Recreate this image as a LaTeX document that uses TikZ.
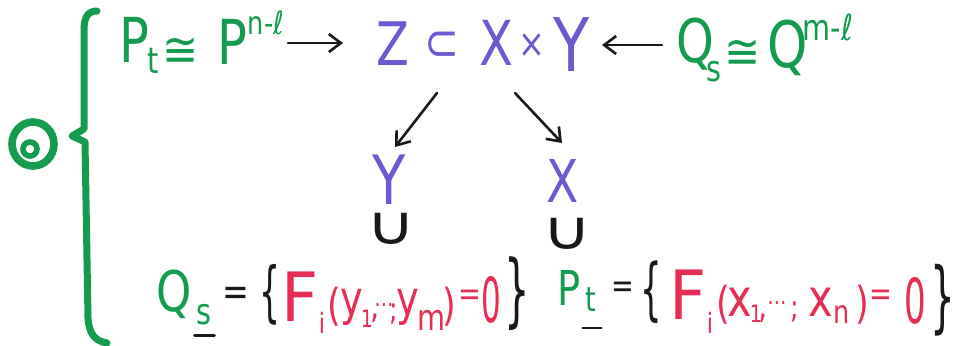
\documentclass[tikz,border=0pt]{standalone}
\usepackage{fontspec}
\setmainfont{DejaVu Sans}
\usetikzlibrary{arrows.meta,calc}
\definecolor{hwgreen}{RGB}{20,155,80}
\definecolor{hwblue}{RGB}{105,90,210}
\definecolor{hwred}{RGB}{232,45,85}
\definecolor{hwblack}{RGB}{25,25,25}
\newcommand\tk[7][0.8]{\node[tk,text=#6,font=\fontsize{#5}{#5}\selectfont] (#2) at (#3,#4) {\scalebox{#1}[1]{#7}};}
\begin{document}
\begin{tikzpicture}[x=0.5pt,y=-0.5pt,
  tk/.style={inner sep=0pt,outer sep=0pt},
  arr/.style={-{Straight Barb[length=6pt,width=9pt]},line width=1.3pt,draw=hwblack,line cap=round},
  uline/.style={line width=1.4pt,draw=hwblack,line cap=round}]
\fill[white] (0,0) rectangle (958,345);
\useasboundingbox (0,0) rectangle (958,345);
% left brace and circled mark
\draw[hwgreen,line width=3.5pt,line cap=round,line join=round]
  (97,11) .. controls (88,11) and (84,17) .. (84,30) -- (84,129) -- (72,136) -- (85,142)
  -- (88,318) .. controls (89,334) and (95,341) .. (107,343);
\draw[hwgreen,line width=3.8pt] (33,144) ellipse [x radius=10.5pt,y radius=11pt];
\draw[hwgreen,line width=2.8pt] (30,149) circle [radius=3.5pt];
% top row
\tk{P1}{134}{40}{31}{hwgreen}{P}
\tk{t1}{153}{61}{18}{hwgreen}{t}
\tk[0.9]{c1}{181}{52}{24}{hwgreen}{≅}
\tk{P2}{232}{42}{31}{hwgreen}{P}
\tk{sup1}{266}{23}{16}{hwgreen}{n-ℓ}
\tk{Zt}{393}{44}{30}{hwblue}{Z}
\tk{sub}{442}{46}{26}{hwblue}{⊂}
\tk{Xt}{496}{43}{31}{hwblue}{X}
\tk{tm}{532}{46}{20}{hwblue}{×}
\tk{Yt}{572}{45}{37}{hwblue}{Y}
\tk{Q1}{695}{44}{30}{hwgreen}{Q}
\tk{s1}{714}{72}{18}{hwgreen}{s}
\tk[0.9]{c2}{743}{54}{24}{hwgreen}{≅}
\tk{Q2}{788}{48}{32}{hwgreen}{Q}
\tk{sup2}{828}{27}{18}{hwgreen}{m-ℓ}
% middle
\tk{Yb}{389}{180}{34}{hwblue}{Y}
\tk{Xb}{563}{181}{29.5}{hwblue}{X}
\tk[1.25]{u1}{391}{229}{27}{hwblack}{∪}
\tk[1.25]{u2}{567}{234}{27}{hwblack}{∪}
% arrows
\draw[arr] ($(P2)+(56,1)$) -- ($(Zt)+(-50,-1)$);
\draw[arr] ($(Q1)+(-33,1)$) -- ($(Yt)+(30,0)$);
\draw[arr] ($(Xt)+(-59,50)$) -- ($(Yb)+(6,-33)$);
\draw[arr] ($(Xt)+(19,50)$) -- ($(Xb)+(-1,-38)$);
% bottom left
\tk{Q3}{174}{294}{28}{hwgreen}{Q}
\tk{s3}{204}{315}{18}{hwgreen}{s}
\draw[uline] ($(s3.south west)+(-2,10)$) -- ($(s3.south east)+(3,10)$);
\tk{eq1}{236}{296}{20}{hwblack}{=}
\tk[0.5]{lb1}{270}{295}{33}{hwblack}{\{}
\tk[0.95]{F1}{300}{297}{34}{hwred}{F}
\tk{i1}{322}{323}{14}{hwred}{i}
\tk{lp1}{334}{307}{22}{hwred}{(}
\tk{y1}{352}{307}{24}{hwred}{y}
\tk{one1}{367}{319}{12}{hwred}{1}
\tk{cm1}{375}{318}{18}{hwred}{,}
\tk{dt1}{384}{308}{12}{hwred}{⋯}
\tk{sc0}{394}{314}{16}{hwred}{;}
\tk{y2}{408}{307}{24}{hwred}{y}
\tk{m1}{432}{320}{18}{hwred}{m}
\tk{rp1}{449}{307}{22}{hwred}{)}
\tk{eq2}{470}{298}{17}{hwred}{=}
\tk[0.5]{z1}{491}{300}{31}{hwred}{0}
\tk[0.5]{rb1}{517}{294}{40}{hwblack}{\}}
% bottom right
\tk{P3}{569}{288}{24}{hwgreen}{P}
\tk{t3}{591}{300}{17}{hwgreen}{t}
\draw[uline] ($(t3.south west)+(-3,16)$) -- ($(t3.south east)+(5,16)$);
\tk{eq3}{623}{290}{17}{hwblack}{=}
\tk[0.5]{lb2}{651}{292}{34}{hwblack}{\{}
\tk[0.95]{F2}{688}{295}{34}{hwred}{F}
\tk{i2}{710}{323}{14}{hwred}{i}
\tk{lp2}{723}{305}{22}{hwred}{(}
\tk{x1}{740}{302}{26}{hwred}{x}
\tk{one2}{756}{314}{12}{hwred}{1}
\tk{cm3}{763}{318}{18}{hwred}{,}
\tk{dt2}{777}{306}{12}{hwred}{⋯}
\tk{sc1}{795}{312}{16}{hwred}{;}
\tk{x2}{821}{302}{26}{hwred}{x}
\tk{n1}{842}{315}{16}{hwred}{n}
\tk{rp2}{862}{305}{22}{hwred}{)}
\tk{eq4}{881}{298}{17}{hwred}{=}
\tk[0.55]{z2}{915}{301}{31}{hwred}{0}
\tk[0.5]{rb2}{943}{300}{39}{hwblack}{\}}
\end{tikzpicture}
\end{document}
